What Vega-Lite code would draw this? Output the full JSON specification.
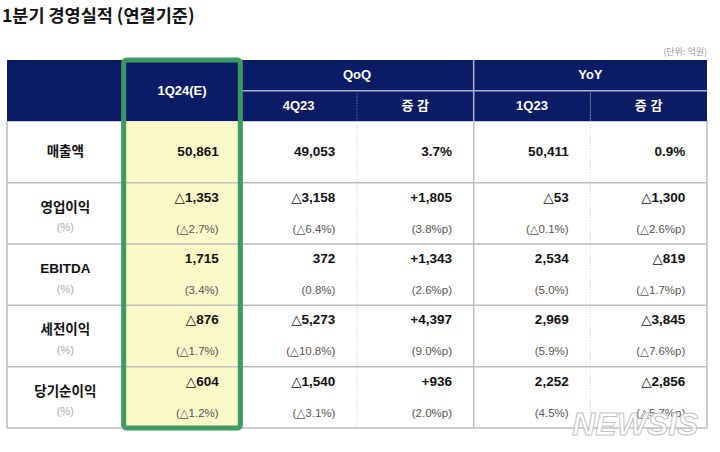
{
  "$schema": "https://vega.github.io/schema/vega-lite/v6.json",
  "width": 700,
  "height": 368,
  "autosize": {"type": "none"},
  "padding": {"left": 7, "top": 60, "right": 13, "bottom": 24},
  "background": "white",
  "config": {"view": {"stroke": null}},
  "datasets": {
    "headers": [
      {"text": "", "c0": 0, "c1": 1, "r0": -1, "r1": 0},
      {"text": "1Q24(E)", "c0": 1, "c1": 2, "r0": -1, "r1": 0},
      {"text": "QoQ", "c0": 2, "c1": 4, "r0": -1, "r1": -0.5},
      {"text": "4Q23", "c0": 2, "c1": 3, "r0": -0.5, "r1": 0},
      {"text": "증 감", "c0": 3, "c1": 4, "r0": -0.5, "r1": 0},
      {"text": "YoY", "c0": 4, "c1": 6, "r0": -1, "r1": -0.5},
      {"text": "1Q23", "c0": 4, "c1": 5, "r0": -0.5, "r1": 0},
      {"text": "증 감", "c0": 5, "c1": 6, "r0": -0.5, "r1": 0}
    ],
    "frame": [
      {"part": "fill", "c0": 1, "c1": 2, "r0": 0, "r1": 5},
      {"part": "border", "c0": 1, "c1": 2, "r0": -1, "r1": 5}
    ],
    "lines": [
      {"kind": "body-solid", "x0": 0, "x1": 6, "y0": 1, "y1": 1},
      {"kind": "body-solid", "x0": 0, "x1": 6, "y0": 2, "y1": 2},
      {"kind": "body-solid", "x0": 0, "x1": 6, "y0": 3, "y1": 3},
      {"kind": "body-solid", "x0": 0, "x1": 6, "y0": 4, "y1": 4},
      {"kind": "body-solid", "x0": 0, "x1": 6, "y0": 5, "y1": 5},
      {"kind": "body-solid", "x0": 0, "x1": 0, "y0": 0, "y1": 5},
      {"kind": "body-solid", "x0": 1, "x1": 1, "y0": 0, "y1": 5},
      {"kind": "body-solid", "x0": 2, "x1": 2, "y0": 0, "y1": 5},
      {"kind": "body-solid", "x0": 4, "x1": 4, "y0": 0, "y1": 5},
      {"kind": "body-solid", "x0": 6, "x1": 6, "y0": 0, "y1": 5},
      {"kind": "body-dot", "x0": 3, "x1": 3, "y0": 0, "y1": 5},
      {"kind": "body-dot", "x0": 5, "x1": 5, "y0": 0, "y1": 5},
      {"kind": "head-solid", "x0": 2, "x1": 6, "y0": -0.5, "y1": -0.5},
      {"kind": "head-solid", "x0": 4, "x1": 4, "y0": -1, "y1": 0},
      {"kind": "head-dot", "x0": 3, "x1": 3, "y0": -0.5, "y1": 0},
      {"kind": "head-dot", "x0": 5, "x1": 5, "y0": -0.5, "y1": 0}
    ],
    "labels": [
      {"row": 0, "col": 0, "label": "매출액", "pct": ""},
      {"row": 1, "col": 0, "label": "영업이익", "pct": "(%)"},
      {"row": 2, "col": 0, "label": "EBITDA", "pct": "(%)"},
      {"row": 3, "col": 0, "label": "세전이익", "pct": "(%)"},
      {"row": 4, "col": 0, "label": "당기순이익", "pct": "(%)"}
    ],
    "cells": [
      {"row": 0, "col": 1, "main": "50,861", "sub": ""},
      {"row": 0, "col": 2, "main": "49,053", "sub": ""},
      {"row": 0, "col": 3, "main": "3.7%", "sub": ""},
      {"row": 0, "col": 4, "main": "50,411", "sub": ""},
      {"row": 0, "col": 5, "main": "0.9%", "sub": ""},
      {"row": 1, "col": 1, "main": "△1,353", "sub": "(△2.7%)"},
      {"row": 1, "col": 2, "main": "△3,158", "sub": "(△6.4%)"},
      {"row": 1, "col": 3, "main": "+1,805", "sub": "(3.8%p)"},
      {"row": 1, "col": 4, "main": "△53", "sub": "(△0.1%)"},
      {"row": 1, "col": 5, "main": "△1,300", "sub": "(△2.6%p)"},
      {"row": 2, "col": 1, "main": "1,715", "sub": "(3.4%)"},
      {"row": 2, "col": 2, "main": "372", "sub": "(0.8%)"},
      {"row": 2, "col": 3, "main": "+1,343", "sub": "(2.6%p)"},
      {"row": 2, "col": 4, "main": "2,534", "sub": "(5.0%)"},
      {"row": 2, "col": 5, "main": "△819", "sub": "(△1.7%p)"},
      {"row": 3, "col": 1, "main": "△876", "sub": "(△1.7%)"},
      {"row": 3, "col": 2, "main": "△5,273", "sub": "(△10.8%)"},
      {"row": 3, "col": 3, "main": "+4,397", "sub": "(9.0%p)"},
      {"row": 3, "col": 4, "main": "2,969", "sub": "(5.9%)"},
      {"row": 3, "col": 5, "main": "△3,845", "sub": "(△7.6%p)"},
      {"row": 4, "col": 1, "main": "△604", "sub": "(△1.2%)"},
      {"row": 4, "col": 2, "main": "△1,540", "sub": "(△3.1%)"},
      {"row": 4, "col": 3, "main": "+936", "sub": "(2.0%p)"},
      {"row": 4, "col": 4, "main": "2,252", "sub": "(4.5%)"},
      {"row": 4, "col": 5, "main": "△2,856", "sub": "(△5.7%p)"}
    ],
    "notes": [
      {"text": "(단위: 억원)", "col": 6, "row": -1}
    ],
    "titles": [
      {"text": "1분기 경영실적 (연결기준)", "col": 0, "row": -1}
    ],
    "mark": [
      {"text": "NEWSIS", "col": 5, "row": 5}
    ]
  },
  "layer": [
    {
      "data": {"name": "headers"},
      "mark": {"type": "rect", "color": "#0b1c66"},
      "encoding": {
        "x": {"field": "c0", "type": "quantitative", "scale": {"domain": [0, 6], "nice": false, "zero": false}, "axis": null},
        "x2": {"field": "c1"},
        "y": {"field": "r0", "type": "quantitative", "scale": {"domain": [-1, 5], "reverse": true, "nice": false, "zero": false}, "axis": null},
        "y2": {"field": "r1"}
      }
    },
    {
      "data": {"name": "frame"},
      "transform": [{"filter": "datum.part == 'fill'"}],
      "mark": {"type": "rect", "color": "#fcf8c8"},
      "encoding": {
        "x": {"field": "c0", "type": "quantitative"},
        "x2": {"field": "c1"},
        "y": {"field": "r0", "type": "quantitative"},
        "y2": {"field": "r1"}
      }
    },
    {
      "data": {"name": "lines"},
      "transform": [{"filter": "datum.kind == 'body-solid'"}],
      "mark": {"type": "rule", "color": "#bdbdbd", "strokeWidth": 1.5},
      "encoding": {
        "x": {"field": "x0", "type": "quantitative"},
        "x2": {"field": "x1"},
        "y": {"field": "y0", "type": "quantitative"},
        "y2": {"field": "y1"}
      }
    },
    {
      "data": {"name": "lines"},
      "transform": [{"filter": "datum.kind == 'body-dot'"}],
      "mark": {"type": "rule", "color": "#c4c4c4", "strokeWidth": 1, "strokeDash": [1, 2]},
      "encoding": {
        "x": {"field": "x0", "type": "quantitative"},
        "x2": {"field": "x1"},
        "y": {"field": "y0", "type": "quantitative"},
        "y2": {"field": "y1"}
      }
    },
    {
      "data": {"name": "lines"},
      "transform": [{"filter": "datum.kind == 'head-solid'"}],
      "mark": {"type": "rule", "color": "#a7b2d2", "strokeWidth": 1.5},
      "encoding": {
        "x": {"field": "x0", "type": "quantitative"},
        "x2": {"field": "x1"},
        "y": {"field": "y0", "type": "quantitative"},
        "y2": {"field": "y1"}
      }
    },
    {
      "data": {"name": "lines"},
      "transform": [{"filter": "datum.kind == 'head-dot'"}],
      "mark": {"type": "rule", "color": "#8e9bc4", "strokeWidth": 1, "strokeDash": [1, 2]},
      "encoding": {
        "x": {"field": "x0", "type": "quantitative"},
        "x2": {"field": "x1"},
        "y": {"field": "y0", "type": "quantitative"},
        "y2": {"field": "y1"}
      }
    },
    {
      "data": {"name": "headers"},
      "transform": [{"filter": "datum.r1 - datum.r0 == 1 && datum.text != ''"}],
      "mark": {"type": "text", "align": "center", "baseline": "middle", "dx": 58.3, "dy": 30.7, "color": "white", "font": "Liberation Sans, Noto Sans CJK KR", "fontSize": 13, "fontWeight": "bold"},
      "encoding": {
        "x": {"field": "c0", "type": "quantitative"},
        "y": {"field": "r0", "type": "quantitative"},
        "text": {"field": "text"}
      }
    },
    {
      "data": {"name": "headers"},
      "transform": [{"filter": "datum.c1 - datum.c0 == 2"}],
      "mark": {"type": "text", "align": "center", "baseline": "middle", "dx": 116.7, "dy": 15.3, "color": "white", "font": "Liberation Sans, Noto Sans CJK KR", "fontSize": 13, "fontWeight": "bold"},
      "encoding": {
        "x": {"field": "c0", "type": "quantitative"},
        "y": {"field": "r0", "type": "quantitative"},
        "text": {"field": "text"}
      }
    },
    {
      "data": {"name": "headers"},
      "transform": [{"filter": "datum.r1 - datum.r0 == 0.5 && datum.c1 - datum.c0 == 1"}],
      "mark": {"type": "text", "align": "center", "baseline": "middle", "dx": 58.3, "dy": 15.3, "color": "white", "font": "Liberation Sans, Noto Sans CJK KR", "fontSize": 13, "fontWeight": "bold"},
      "encoding": {
        "x": {"field": "c0", "type": "quantitative"},
        "y": {"field": "r0", "type": "quantitative"},
        "text": {"field": "text"}
      }
    },
    {
      "data": {"name": "cells"},
      "transform": [{"filter": "datum.sub == ''"}],
      "mark": {"type": "text", "align": "right", "baseline": "middle", "dx": 95, "dy": 30.7, "color": "#111111", "font": "Liberation Sans, DejaVu Sans", "fontSize": 13.5, "fontWeight": "bold"},
      "encoding": {
        "x": {"field": "col", "type": "quantitative"},
        "y": {"field": "row", "type": "quantitative"},
        "text": {"field": "main"}
      }
    },
    {
      "data": {"name": "cells"},
      "transform": [{"filter": "datum.sub != ''"}],
      "mark": {"type": "text", "align": "right", "baseline": "middle", "dx": 95, "dy": 15, "color": "#111111", "font": "Liberation Sans, DejaVu Sans", "fontSize": 13.5, "fontWeight": "bold"},
      "encoding": {
        "x": {"field": "col", "type": "quantitative"},
        "y": {"field": "row", "type": "quantitative"},
        "text": {"field": "main"}
      }
    },
    {
      "data": {"name": "cells"},
      "transform": [{"filter": "datum.sub != ''"}],
      "mark": {"type": "text", "align": "right", "baseline": "middle", "dx": 95, "dy": 47, "color": "#555555", "font": "Liberation Sans, DejaVu Sans", "fontSize": 11.5},
      "encoding": {
        "x": {"field": "col", "type": "quantitative"},
        "y": {"field": "row", "type": "quantitative"},
        "text": {"field": "sub"}
      }
    },
    {
      "data": {"name": "labels"},
      "transform": [{"filter": "datum.pct == ''"}],
      "mark": {"type": "text", "align": "center", "baseline": "middle", "dx": 58.3, "dy": 30.7, "color": "#111111", "font": "Noto Sans CJK KR", "fontSize": 13.5, "fontWeight": "bold"},
      "encoding": {
        "x": {"field": "col", "type": "quantitative"},
        "y": {"field": "row", "type": "quantitative"},
        "text": {"field": "label"}
      }
    },
    {
      "data": {"name": "labels"},
      "transform": [{"filter": "datum.pct != ''"}],
      "mark": {"type": "text", "align": "center", "baseline": "middle", "dx": 58.3, "dy": 25, "color": "#111111", "font": "Liberation Sans, Noto Sans CJK KR", "fontSize": 13.5, "fontWeight": "bold"},
      "encoding": {
        "x": {"field": "col", "type": "quantitative"},
        "y": {"field": "row", "type": "quantitative"},
        "text": {"field": "label"}
      }
    },
    {
      "data": {"name": "labels"},
      "transform": [{"filter": "datum.pct != ''"}],
      "mark": {"type": "text", "align": "center", "baseline": "middle", "dx": 58.3, "dy": 45.5, "color": "#aaaaaa", "font": "Liberation Sans", "fontSize": 11},
      "encoding": {
        "x": {"field": "col", "type": "quantitative"},
        "y": {"field": "row", "type": "quantitative"},
        "text": {"field": "pct"}
      }
    },
    {
      "data": {"name": "notes"},
      "mark": {"type": "text", "align": "right", "baseline": "middle", "dy": -8, "color": "#999999", "font": "Noto Sans CJK KR", "fontSize": 9},
      "encoding": {
        "x": {"field": "col", "type": "quantitative"},
        "y": {"field": "row", "type": "quantitative"},
        "text": {"field": "text"}
      }
    },
    {
      "data": {"name": "titles"},
      "mark": {"type": "text", "align": "left", "baseline": "middle", "dx": -5, "dy": -43, "color": "#111111", "font": "Noto Sans CJK KR", "fontSize": 17.5, "fontWeight": "bold"},
      "encoding": {
        "x": {"field": "col", "type": "quantitative"},
        "y": {"field": "row", "type": "quantitative"},
        "text": {"field": "text"}
      }
    },
    {
      "data": {"name": "frame"},
      "transform": [{"filter": "datum.part == 'border'"}],
      "mark": {"type": "rect", "fillOpacity": 0, "fill": "white", "stroke": "#3d9a60", "strokeWidth": 5, "cornerRadius": 3},
      "encoding": {
        "x": {"field": "c0", "type": "quantitative"},
        "x2": {"field": "c1"},
        "y": {"field": "r0", "type": "quantitative"},
        "y2": {"field": "r1"}
      }
    },
    {
      "data": {"name": "mark"},
      "mark": {"type": "text", "align": "center", "baseline": "middle", "dx": 45, "dy": -3, "fill": "white", "fillOpacity": 0.85, "stroke": "#c2c2c2", "strokeWidth": 1, "font": "Liberation Sans", "fontSize": 32, "fontWeight": "bold", "fontStyle": "italic"},
      "encoding": {
        "x": {"field": "col", "type": "quantitative"},
        "y": {"field": "row", "type": "quantitative"},
        "text": {"field": "text"}
      }
    }
  ]
}
